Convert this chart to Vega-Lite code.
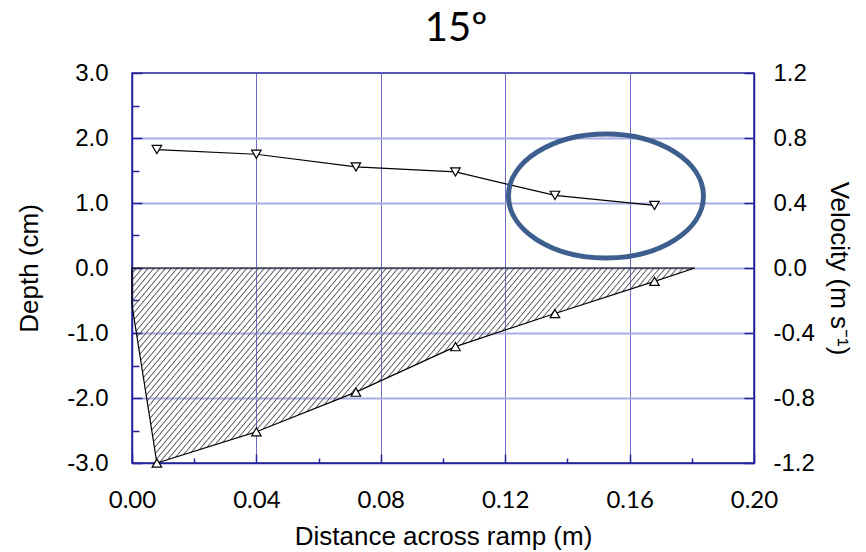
{
  "$schema": "https://vega.github.io/schema/vega-lite/v6.json",
  "width": 622,
  "height": 390,
  "autosize": {"type": "none"},
  "padding": {"left": 132, "top": 73, "right": 112, "bottom": 89},
  "background": "white",
  "title": {"text": "15º", "font": "Lato", "fontSize": 40, "fontWeight": "normal", "color": "black", "offset": 12, "dx": 13, "anchor": "middle"},
  "config": {
    "view": {"stroke": "#23239a", "strokeWidth": 1.5},
    "axis": {
      "domainColor": "#23239a", "domainWidth": 1.5,
      "tickColor": "#23239a", "tickWidth": 1.5,
      "labelColor": "black", "titleColor": "black",
      "titleFontWeight": "normal", "labelOverlap": false, "labelFlush": false
    }
  },
  "datasets": {
    "bed": [
      {"x": 0.0, "depth": -0.57},
      {"x": 0.008, "depth": -3.0},
      {"x": 0.04, "depth": -2.52},
      {"x": 0.072, "depth": -1.91},
      {"x": 0.104, "depth": -1.21},
      {"x": 0.136, "depth": -0.70},
      {"x": 0.168, "depth": -0.205},
      {"x": 0.181, "depth": 0.0}
    ],
    "vel": [
      {"x": 0.008, "vel": 0.729},
      {"x": 0.04, "vel": 0.70},
      {"x": 0.072, "vel": 0.622},
      {"x": 0.104, "vel": 0.591},
      {"x": 0.136, "vel": 0.447},
      {"x": 0.168, "vel": 0.385}
    ],
    "note": [
      {"x": 0.1524, "vel": 0.443}
    ]
  },
  "layer": [
    {
      "data": {"name": "bed"},
      "encoding": {
        "x": {
          "field": "x", "type": "quantitative",
          "scale": {"domain": [0, 0.2], "nice": false, "zero": false},
          "axis": {
            "values": [0, 0.01, 0.02, 0.03, 0.04, 0.05, 0.06, 0.07, 0.08, 0.09, 0.1, 0.11, 0.12, 0.13, 0.14, 0.15, 0.16, 0.17, 0.18, 0.19, 0.2],
            "labelExpr": "abs(datum.value*25 - round(datum.value*25)) < 0.001 ? format(datum.value, '.2f') : ''",
            "tickSize": {"condition": {"test": "abs(datum.value*25 - round(datum.value*25)) < 0.001", "value": -9}, "value": -5},
            "grid": true,
            "gridColor": "#6b6bc9", "gridWidth": 1,
            "gridOpacity": {"condition": {"test": "abs(datum.value*25 - round(datum.value*25)) < 0.001 && datum.value > 0.001 && datum.value < 0.199", "value": 1}, "value": 0},
            "labelFont": "Lato", "labelFontSize": 24, "labelPadding": 34,
            "title": "Distance across ramp (m)", "titleFont": "Liberation Sans", "titleFontSize": 26, "titlePadding": 7
          }
        },
        "y": {
          "field": "depth", "type": "quantitative",
          "scale": {"domain": [-3, 3], "nice": false, "zero": false},
          "axis": {
            "orient": "left",
            "values": [-3, -2.5, -2, -1.5, -1, -0.5, 0, 0.5, 1, 1.5, 2, 2.5, 3],
            "labelExpr": "datum.value % 1 === 0 ? (datum.value < 0 ? '-' : '') + format(abs(datum.value), '.1f') : ''",
            "tickSize": {"condition": {"test": "datum.value % 1 === 0", "value": -10}, "value": -7},
            "grid": true,
            "gridColor": "#a9ade3", "gridWidth": 2,
            "gridOpacity": {"condition": {"test": "datum.value % 1 === 0 && abs(datum.value) < 2.9", "value": 1}, "value": 0},
            "labelFont": "Liberation Sans", "labelFontSize": 24, "labelPadding": 34,
            "title": "Depth (cm)", "titleFont": "Liberation Sans", "titleFontSize": 26, "titlePadding": 24
          }
        }
      },
      "layer": [
        {
          "mark": {
            "type": "area",
            "stroke": "black",
            "strokeWidth": 1.2,
            "fill": {
              "gradient": "linear", "x1": 0, "y1": 0, "x2": 1.1901, "y2": 0.3459,
              "stops": [
                {"offset": 0, "color": "#5550"}, {"offset": 0.0048, "color": "#5550"}, {"offset": 0.0064, "color": "#555"},
                {"offset": 0.008, "color": "#5550"}, {"offset": 0.0128, "color": "#5550"}, {"offset": 0.0144, "color": "#555"},
                {"offset": 0.016, "color": "#5550"}, {"offset": 0.0208, "color": "#5550"}, {"offset": 0.0224, "color": "#555"},
                {"offset": 0.024, "color": "#5550"}, {"offset": 0.0288, "color": "#5550"}, {"offset": 0.0304, "color": "#555"},
                {"offset": 0.032, "color": "#5550"}, {"offset": 0.0368, "color": "#5550"}, {"offset": 0.0384, "color": "#555"},
                {"offset": 0.04, "color": "#5550"}, {"offset": 0.0448, "color": "#5550"}, {"offset": 0.0464, "color": "#555"},
                {"offset": 0.048, "color": "#5550"}, {"offset": 0.0528, "color": "#5550"}, {"offset": 0.0544, "color": "#555"},
                {"offset": 0.056, "color": "#5550"}, {"offset": 0.0608, "color": "#5550"}, {"offset": 0.0624, "color": "#555"},
                {"offset": 0.064, "color": "#5550"}, {"offset": 0.0688, "color": "#5550"}, {"offset": 0.0704, "color": "#555"},
                {"offset": 0.072, "color": "#5550"}, {"offset": 0.0768, "color": "#5550"}, {"offset": 0.0784, "color": "#555"},
                {"offset": 0.08, "color": "#5550"}, {"offset": 0.0848, "color": "#5550"}, {"offset": 0.0864, "color": "#555"},
                {"offset": 0.088, "color": "#5550"}, {"offset": 0.0928, "color": "#5550"}, {"offset": 0.0944, "color": "#555"},
                {"offset": 0.096, "color": "#5550"}, {"offset": 0.1008, "color": "#5550"}, {"offset": 0.1024, "color": "#555"},
                {"offset": 0.104, "color": "#5550"}, {"offset": 0.1088, "color": "#5550"}, {"offset": 0.1104, "color": "#555"},
                {"offset": 0.112, "color": "#5550"}, {"offset": 0.1168, "color": "#5550"}, {"offset": 0.1184, "color": "#555"},
                {"offset": 0.12, "color": "#5550"}, {"offset": 0.1248, "color": "#5550"}, {"offset": 0.1264, "color": "#555"},
                {"offset": 0.128, "color": "#5550"}, {"offset": 0.1328, "color": "#5550"}, {"offset": 0.1344, "color": "#555"},
                {"offset": 0.136, "color": "#5550"}, {"offset": 0.1408, "color": "#5550"}, {"offset": 0.1424, "color": "#555"},
                {"offset": 0.144, "color": "#5550"}, {"offset": 0.1488, "color": "#5550"}, {"offset": 0.1504, "color": "#555"},
                {"offset": 0.152, "color": "#5550"}, {"offset": 0.1568, "color": "#5550"}, {"offset": 0.1584, "color": "#555"},
                {"offset": 0.16, "color": "#5550"}, {"offset": 0.1648, "color": "#5550"}, {"offset": 0.1664, "color": "#555"},
                {"offset": 0.168, "color": "#5550"}, {"offset": 0.1728, "color": "#5550"}, {"offset": 0.1744, "color": "#555"},
                {"offset": 0.176, "color": "#5550"}, {"offset": 0.1808, "color": "#5550"}, {"offset": 0.1824, "color": "#555"},
                {"offset": 0.184, "color": "#5550"}, {"offset": 0.1888, "color": "#5550"}, {"offset": 0.1904, "color": "#555"},
                {"offset": 0.192, "color": "#5550"}, {"offset": 0.1968, "color": "#5550"}, {"offset": 0.1984, "color": "#555"},
                {"offset": 0.2, "color": "#5550"}, {"offset": 0.2048, "color": "#5550"}, {"offset": 0.2064, "color": "#555"},
                {"offset": 0.208, "color": "#5550"}, {"offset": 0.2128, "color": "#5550"}, {"offset": 0.2144, "color": "#555"},
                {"offset": 0.216, "color": "#5550"}, {"offset": 0.2208, "color": "#5550"}, {"offset": 0.2224, "color": "#555"},
                {"offset": 0.224, "color": "#5550"}, {"offset": 0.2288, "color": "#5550"}, {"offset": 0.2304, "color": "#555"},
                {"offset": 0.232, "color": "#5550"}, {"offset": 0.2368, "color": "#5550"}, {"offset": 0.2384, "color": "#555"},
                {"offset": 0.24, "color": "#5550"}, {"offset": 0.2448, "color": "#5550"}, {"offset": 0.2464, "color": "#555"},
                {"offset": 0.248, "color": "#5550"}, {"offset": 0.2528, "color": "#5550"}, {"offset": 0.2544, "color": "#555"},
                {"offset": 0.256, "color": "#5550"}, {"offset": 0.2608, "color": "#5550"}, {"offset": 0.2624, "color": "#555"},
                {"offset": 0.264, "color": "#5550"}, {"offset": 0.2688, "color": "#5550"}, {"offset": 0.2704, "color": "#555"},
                {"offset": 0.272, "color": "#5550"}, {"offset": 0.2768, "color": "#5550"}, {"offset": 0.2784, "color": "#555"},
                {"offset": 0.28, "color": "#5550"}, {"offset": 0.2848, "color": "#5550"}, {"offset": 0.2864, "color": "#555"},
                {"offset": 0.288, "color": "#5550"}, {"offset": 0.2928, "color": "#5550"}, {"offset": 0.2944, "color": "#555"},
                {"offset": 0.296, "color": "#5550"}, {"offset": 0.3008, "color": "#5550"}, {"offset": 0.3024, "color": "#555"},
                {"offset": 0.304, "color": "#5550"}, {"offset": 0.3088, "color": "#5550"}, {"offset": 0.3104, "color": "#555"},
                {"offset": 0.312, "color": "#5550"}, {"offset": 0.3168, "color": "#5550"}, {"offset": 0.3184, "color": "#555"},
                {"offset": 0.32, "color": "#5550"}, {"offset": 0.3248, "color": "#5550"}, {"offset": 0.3264, "color": "#555"},
                {"offset": 0.328, "color": "#5550"}, {"offset": 0.3328, "color": "#5550"}, {"offset": 0.3344, "color": "#555"},
                {"offset": 0.336, "color": "#5550"}, {"offset": 0.3408, "color": "#5550"}, {"offset": 0.3424, "color": "#555"},
                {"offset": 0.344, "color": "#5550"}, {"offset": 0.3488, "color": "#5550"}, {"offset": 0.3504, "color": "#555"},
                {"offset": 0.352, "color": "#5550"}, {"offset": 0.3568, "color": "#5550"}, {"offset": 0.3584, "color": "#555"},
                {"offset": 0.36, "color": "#5550"}, {"offset": 0.3648, "color": "#5550"}, {"offset": 0.3664, "color": "#555"},
                {"offset": 0.368, "color": "#5550"}, {"offset": 0.3728, "color": "#5550"}, {"offset": 0.3744, "color": "#555"},
                {"offset": 0.376, "color": "#5550"}, {"offset": 0.3808, "color": "#5550"}, {"offset": 0.3824, "color": "#555"},
                {"offset": 0.384, "color": "#5550"}, {"offset": 0.3888, "color": "#5550"}, {"offset": 0.3904, "color": "#555"},
                {"offset": 0.392, "color": "#5550"}, {"offset": 0.3968, "color": "#5550"}, {"offset": 0.3984, "color": "#555"},
                {"offset": 0.4, "color": "#5550"}, {"offset": 0.4048, "color": "#5550"}, {"offset": 0.4064, "color": "#555"},
                {"offset": 0.408, "color": "#5550"}, {"offset": 0.4128, "color": "#5550"}, {"offset": 0.4144, "color": "#555"},
                {"offset": 0.416, "color": "#5550"}, {"offset": 0.4208, "color": "#5550"}, {"offset": 0.4224, "color": "#555"},
                {"offset": 0.424, "color": "#5550"}, {"offset": 0.4288, "color": "#5550"}, {"offset": 0.4304, "color": "#555"},
                {"offset": 0.432, "color": "#5550"}, {"offset": 0.4368, "color": "#5550"}, {"offset": 0.4384, "color": "#555"},
                {"offset": 0.44, "color": "#5550"}, {"offset": 0.4448, "color": "#5550"}, {"offset": 0.4464, "color": "#555"},
                {"offset": 0.448, "color": "#5550"}, {"offset": 0.4528, "color": "#5550"}, {"offset": 0.4544, "color": "#555"},
                {"offset": 0.456, "color": "#5550"}, {"offset": 0.4608, "color": "#5550"}, {"offset": 0.4624, "color": "#555"},
                {"offset": 0.464, "color": "#5550"}, {"offset": 0.4688, "color": "#5550"}, {"offset": 0.4704, "color": "#555"},
                {"offset": 0.472, "color": "#5550"}, {"offset": 0.4768, "color": "#5550"}, {"offset": 0.4784, "color": "#555"},
                {"offset": 0.48, "color": "#5550"}, {"offset": 0.4848, "color": "#5550"}, {"offset": 0.4864, "color": "#555"},
                {"offset": 0.488, "color": "#5550"}, {"offset": 0.4928, "color": "#5550"}, {"offset": 0.4944, "color": "#555"},
                {"offset": 0.496, "color": "#5550"}, {"offset": 0.5008, "color": "#5550"}, {"offset": 0.5024, "color": "#555"},
                {"offset": 0.504, "color": "#5550"}, {"offset": 0.5088, "color": "#5550"}, {"offset": 0.5104, "color": "#555"},
                {"offset": 0.512, "color": "#5550"}, {"offset": 0.5168, "color": "#5550"}, {"offset": 0.5184, "color": "#555"},
                {"offset": 0.52, "color": "#5550"}, {"offset": 0.5248, "color": "#5550"}, {"offset": 0.5264, "color": "#555"},
                {"offset": 0.528, "color": "#5550"}, {"offset": 0.5328, "color": "#5550"}, {"offset": 0.5344, "color": "#555"},
                {"offset": 0.536, "color": "#5550"}, {"offset": 0.5408, "color": "#5550"}, {"offset": 0.5424, "color": "#555"},
                {"offset": 0.544, "color": "#5550"}, {"offset": 0.5488, "color": "#5550"}, {"offset": 0.5504, "color": "#555"},
                {"offset": 0.552, "color": "#5550"}, {"offset": 0.5568, "color": "#5550"}, {"offset": 0.5584, "color": "#555"},
                {"offset": 0.56, "color": "#5550"}, {"offset": 0.5648, "color": "#5550"}, {"offset": 0.5664, "color": "#555"},
                {"offset": 0.568, "color": "#5550"}, {"offset": 0.5728, "color": "#5550"}, {"offset": 0.5744, "color": "#555"},
                {"offset": 0.576, "color": "#5550"}, {"offset": 0.5808, "color": "#5550"}, {"offset": 0.5824, "color": "#555"},
                {"offset": 0.584, "color": "#5550"}, {"offset": 0.5888, "color": "#5550"}, {"offset": 0.5904, "color": "#555"},
                {"offset": 0.592, "color": "#5550"}, {"offset": 0.5968, "color": "#5550"}, {"offset": 0.5984, "color": "#555"},
                {"offset": 0.6, "color": "#5550"}, {"offset": 0.6048, "color": "#5550"}, {"offset": 0.6064, "color": "#555"},
                {"offset": 0.608, "color": "#5550"}, {"offset": 0.6128, "color": "#5550"}, {"offset": 0.6144, "color": "#555"},
                {"offset": 0.616, "color": "#5550"}, {"offset": 0.6208, "color": "#5550"}, {"offset": 0.6224, "color": "#555"},
                {"offset": 0.624, "color": "#5550"}, {"offset": 0.6288, "color": "#5550"}, {"offset": 0.6304, "color": "#555"},
                {"offset": 0.632, "color": "#5550"}, {"offset": 0.6368, "color": "#5550"}, {"offset": 0.6384, "color": "#555"},
                {"offset": 0.64, "color": "#5550"}, {"offset": 0.6448, "color": "#5550"}, {"offset": 0.6464, "color": "#555"},
                {"offset": 0.648, "color": "#5550"}, {"offset": 0.6528, "color": "#5550"}, {"offset": 0.6544, "color": "#555"},
                {"offset": 0.656, "color": "#5550"}, {"offset": 0.6608, "color": "#5550"}, {"offset": 0.6624, "color": "#555"},
                {"offset": 0.664, "color": "#5550"}, {"offset": 0.6688, "color": "#5550"}, {"offset": 0.6704, "color": "#555"},
                {"offset": 0.672, "color": "#5550"}, {"offset": 0.6768, "color": "#5550"}, {"offset": 0.6784, "color": "#555"},
                {"offset": 0.68, "color": "#5550"}, {"offset": 0.6848, "color": "#5550"}, {"offset": 0.6864, "color": "#555"},
                {"offset": 0.688, "color": "#5550"}, {"offset": 0.6928, "color": "#5550"}, {"offset": 0.6944, "color": "#555"},
                {"offset": 0.696, "color": "#5550"}, {"offset": 0.7008, "color": "#5550"}, {"offset": 0.7024, "color": "#555"},
                {"offset": 0.704, "color": "#5550"}, {"offset": 0.7088, "color": "#5550"}, {"offset": 0.7104, "color": "#555"},
                {"offset": 0.712, "color": "#5550"}, {"offset": 0.7168, "color": "#5550"}, {"offset": 0.7184, "color": "#555"},
                {"offset": 0.72, "color": "#5550"}, {"offset": 0.7248, "color": "#5550"}, {"offset": 0.7264, "color": "#555"},
                {"offset": 0.728, "color": "#5550"}, {"offset": 0.7328, "color": "#5550"}, {"offset": 0.7344, "color": "#555"},
                {"offset": 0.736, "color": "#5550"}, {"offset": 0.7408, "color": "#5550"}, {"offset": 0.7424, "color": "#555"},
                {"offset": 0.744, "color": "#5550"}, {"offset": 0.7488, "color": "#5550"}, {"offset": 0.7504, "color": "#555"},
                {"offset": 0.752, "color": "#5550"}, {"offset": 0.7568, "color": "#5550"}, {"offset": 0.7584, "color": "#555"},
                {"offset": 0.76, "color": "#5550"}, {"offset": 0.7648, "color": "#5550"}, {"offset": 0.7664, "color": "#555"},
                {"offset": 0.768, "color": "#5550"}, {"offset": 0.7728, "color": "#5550"}, {"offset": 0.7744, "color": "#555"},
                {"offset": 0.776, "color": "#5550"}, {"offset": 0.7808, "color": "#5550"}, {"offset": 0.7824, "color": "#555"},
                {"offset": 0.784, "color": "#5550"}, {"offset": 0.7888, "color": "#5550"}, {"offset": 0.7904, "color": "#555"},
                {"offset": 0.792, "color": "#5550"}, {"offset": 0.7968, "color": "#5550"}, {"offset": 0.7984, "color": "#555"},
                {"offset": 0.8, "color": "#5550"}, {"offset": 0.8048, "color": "#5550"}, {"offset": 0.8064, "color": "#555"},
                {"offset": 0.808, "color": "#5550"}, {"offset": 0.8128, "color": "#5550"}, {"offset": 0.8144, "color": "#555"},
                {"offset": 0.816, "color": "#5550"}, {"offset": 0.8208, "color": "#5550"}, {"offset": 0.8224, "color": "#555"},
                {"offset": 0.824, "color": "#5550"}, {"offset": 0.8288, "color": "#5550"}, {"offset": 0.8304, "color": "#555"},
                {"offset": 0.832, "color": "#5550"}, {"offset": 0.8368, "color": "#5550"}, {"offset": 0.8384, "color": "#555"},
                {"offset": 0.84, "color": "#5550"}, {"offset": 0.8448, "color": "#5550"}, {"offset": 0.8464, "color": "#555"},
                {"offset": 0.848, "color": "#5550"}, {"offset": 0.8528, "color": "#5550"}, {"offset": 0.8544, "color": "#555"},
                {"offset": 0.856, "color": "#5550"}, {"offset": 0.8608, "color": "#5550"}, {"offset": 0.8624, "color": "#555"},
                {"offset": 0.864, "color": "#5550"}, {"offset": 0.8688, "color": "#5550"}, {"offset": 0.8704, "color": "#555"},
                {"offset": 0.872, "color": "#5550"}, {"offset": 0.8768, "color": "#5550"}, {"offset": 0.8784, "color": "#555"},
                {"offset": 0.88, "color": "#5550"}, {"offset": 0.8848, "color": "#5550"}, {"offset": 0.8864, "color": "#555"},
                {"offset": 0.888, "color": "#5550"}, {"offset": 0.8928, "color": "#5550"}, {"offset": 0.8944, "color": "#555"},
                {"offset": 0.896, "color": "#5550"}, {"offset": 0.9008, "color": "#5550"}, {"offset": 0.9024, "color": "#555"},
                {"offset": 0.904, "color": "#5550"}, {"offset": 0.9088, "color": "#5550"}, {"offset": 0.9104, "color": "#555"},
                {"offset": 0.912, "color": "#5550"}, {"offset": 0.9168, "color": "#5550"}, {"offset": 0.9184, "color": "#555"},
                {"offset": 0.92, "color": "#5550"}, {"offset": 0.9248, "color": "#5550"}, {"offset": 0.9264, "color": "#555"},
                {"offset": 0.928, "color": "#5550"}, {"offset": 0.9328, "color": "#5550"}, {"offset": 0.9344, "color": "#555"},
                {"offset": 0.936, "color": "#5550"}, {"offset": 0.9408, "color": "#5550"}, {"offset": 0.9424, "color": "#555"},
                {"offset": 0.944, "color": "#5550"}, {"offset": 0.9488, "color": "#5550"}, {"offset": 0.9504, "color": "#555"},
                {"offset": 0.952, "color": "#5550"}, {"offset": 0.9568, "color": "#5550"}, {"offset": 0.9584, "color": "#555"},
                {"offset": 0.96, "color": "#5550"}, {"offset": 0.9648, "color": "#5550"}, {"offset": 0.9664, "color": "#555"},
                {"offset": 0.968, "color": "#5550"}, {"offset": 0.9728, "color": "#5550"}, {"offset": 0.9744, "color": "#555"},
                {"offset": 0.976, "color": "#5550"}, {"offset": 0.9808, "color": "#5550"}, {"offset": 0.9824, "color": "#555"},
                {"offset": 0.984, "color": "#5550"}, {"offset": 0.9888, "color": "#5550"}, {"offset": 0.9904, "color": "#555"},
                {"offset": 0.992, "color": "#5550"}, {"offset": 0.9968, "color": "#5550"}, {"offset": 0.9984, "color": "#555"},
                {"offset": 1, "color": "#5550"}
              ]
            }
          },
          "encoding": {"y2": {"datum": 0}}
        },
        {
          "transform": [{"filter": "datum.x > 0.001 && datum.x < 0.18"}],
          "mark": {"type": "point", "shape": "triangle-up", "size": 90, "filled": true, "fill": "white", "stroke": "black", "strokeWidth": 1.2, "opacity": 1}
        }
      ]
    },
    {
      "encoding": {
        "x": {"field": "x", "type": "quantitative", "scale": {"domain": [0, 0.2], "nice": false, "zero": false}},
        "y": {
          "field": "vel", "type": "quantitative",
          "scale": {"domain": [-1.2, 1.2], "nice": false, "zero": false},
          "axis": {
            "orient": "right",
            "values": [-1.2, -0.8, -0.4, 0, 0.4, 0.8, 1.2],
            "labelExpr": "(datum.value < 0 ? '-' : '') + format(abs(datum.value), '.1f')",
            "tickSize": -10,
            "grid": false,
            "labelFont": "Liberation Sans", "labelFontSize": 24, "labelPadding": 29,
            "title": "Velocity (m s⁻¹)", "titleFont": "Liberation Sans", "titleFontSize": 26, "titlePadding": 11
          }
        }
      },
      "layer": [
        {
          "data": {"name": "vel"},
          "mark": {"type": "line", "color": "black", "strokeWidth": 1.2}
        },
        {
          "data": {"name": "vel"},
          "mark": {"type": "point", "shape": "triangle-down", "size": 90, "filled": true, "fill": "white", "stroke": "black", "strokeWidth": 1.2, "opacity": 1}
        },
        {
          "data": {"name": "note"},
          "mark": {"type": "point", "shape": "M -1 0 A 1 0.636 0 1 0 1 0 A 1 0.636 0 1 0 -1 0 Z", "size": 38025, "filled": false, "fill": null, "stroke": "#3c5f8d", "strokeWidth": 5, "opacity": 1}
        }
      ]
    }
  ],
  "resolve": {"scale": {"y": "independent"}}
}
